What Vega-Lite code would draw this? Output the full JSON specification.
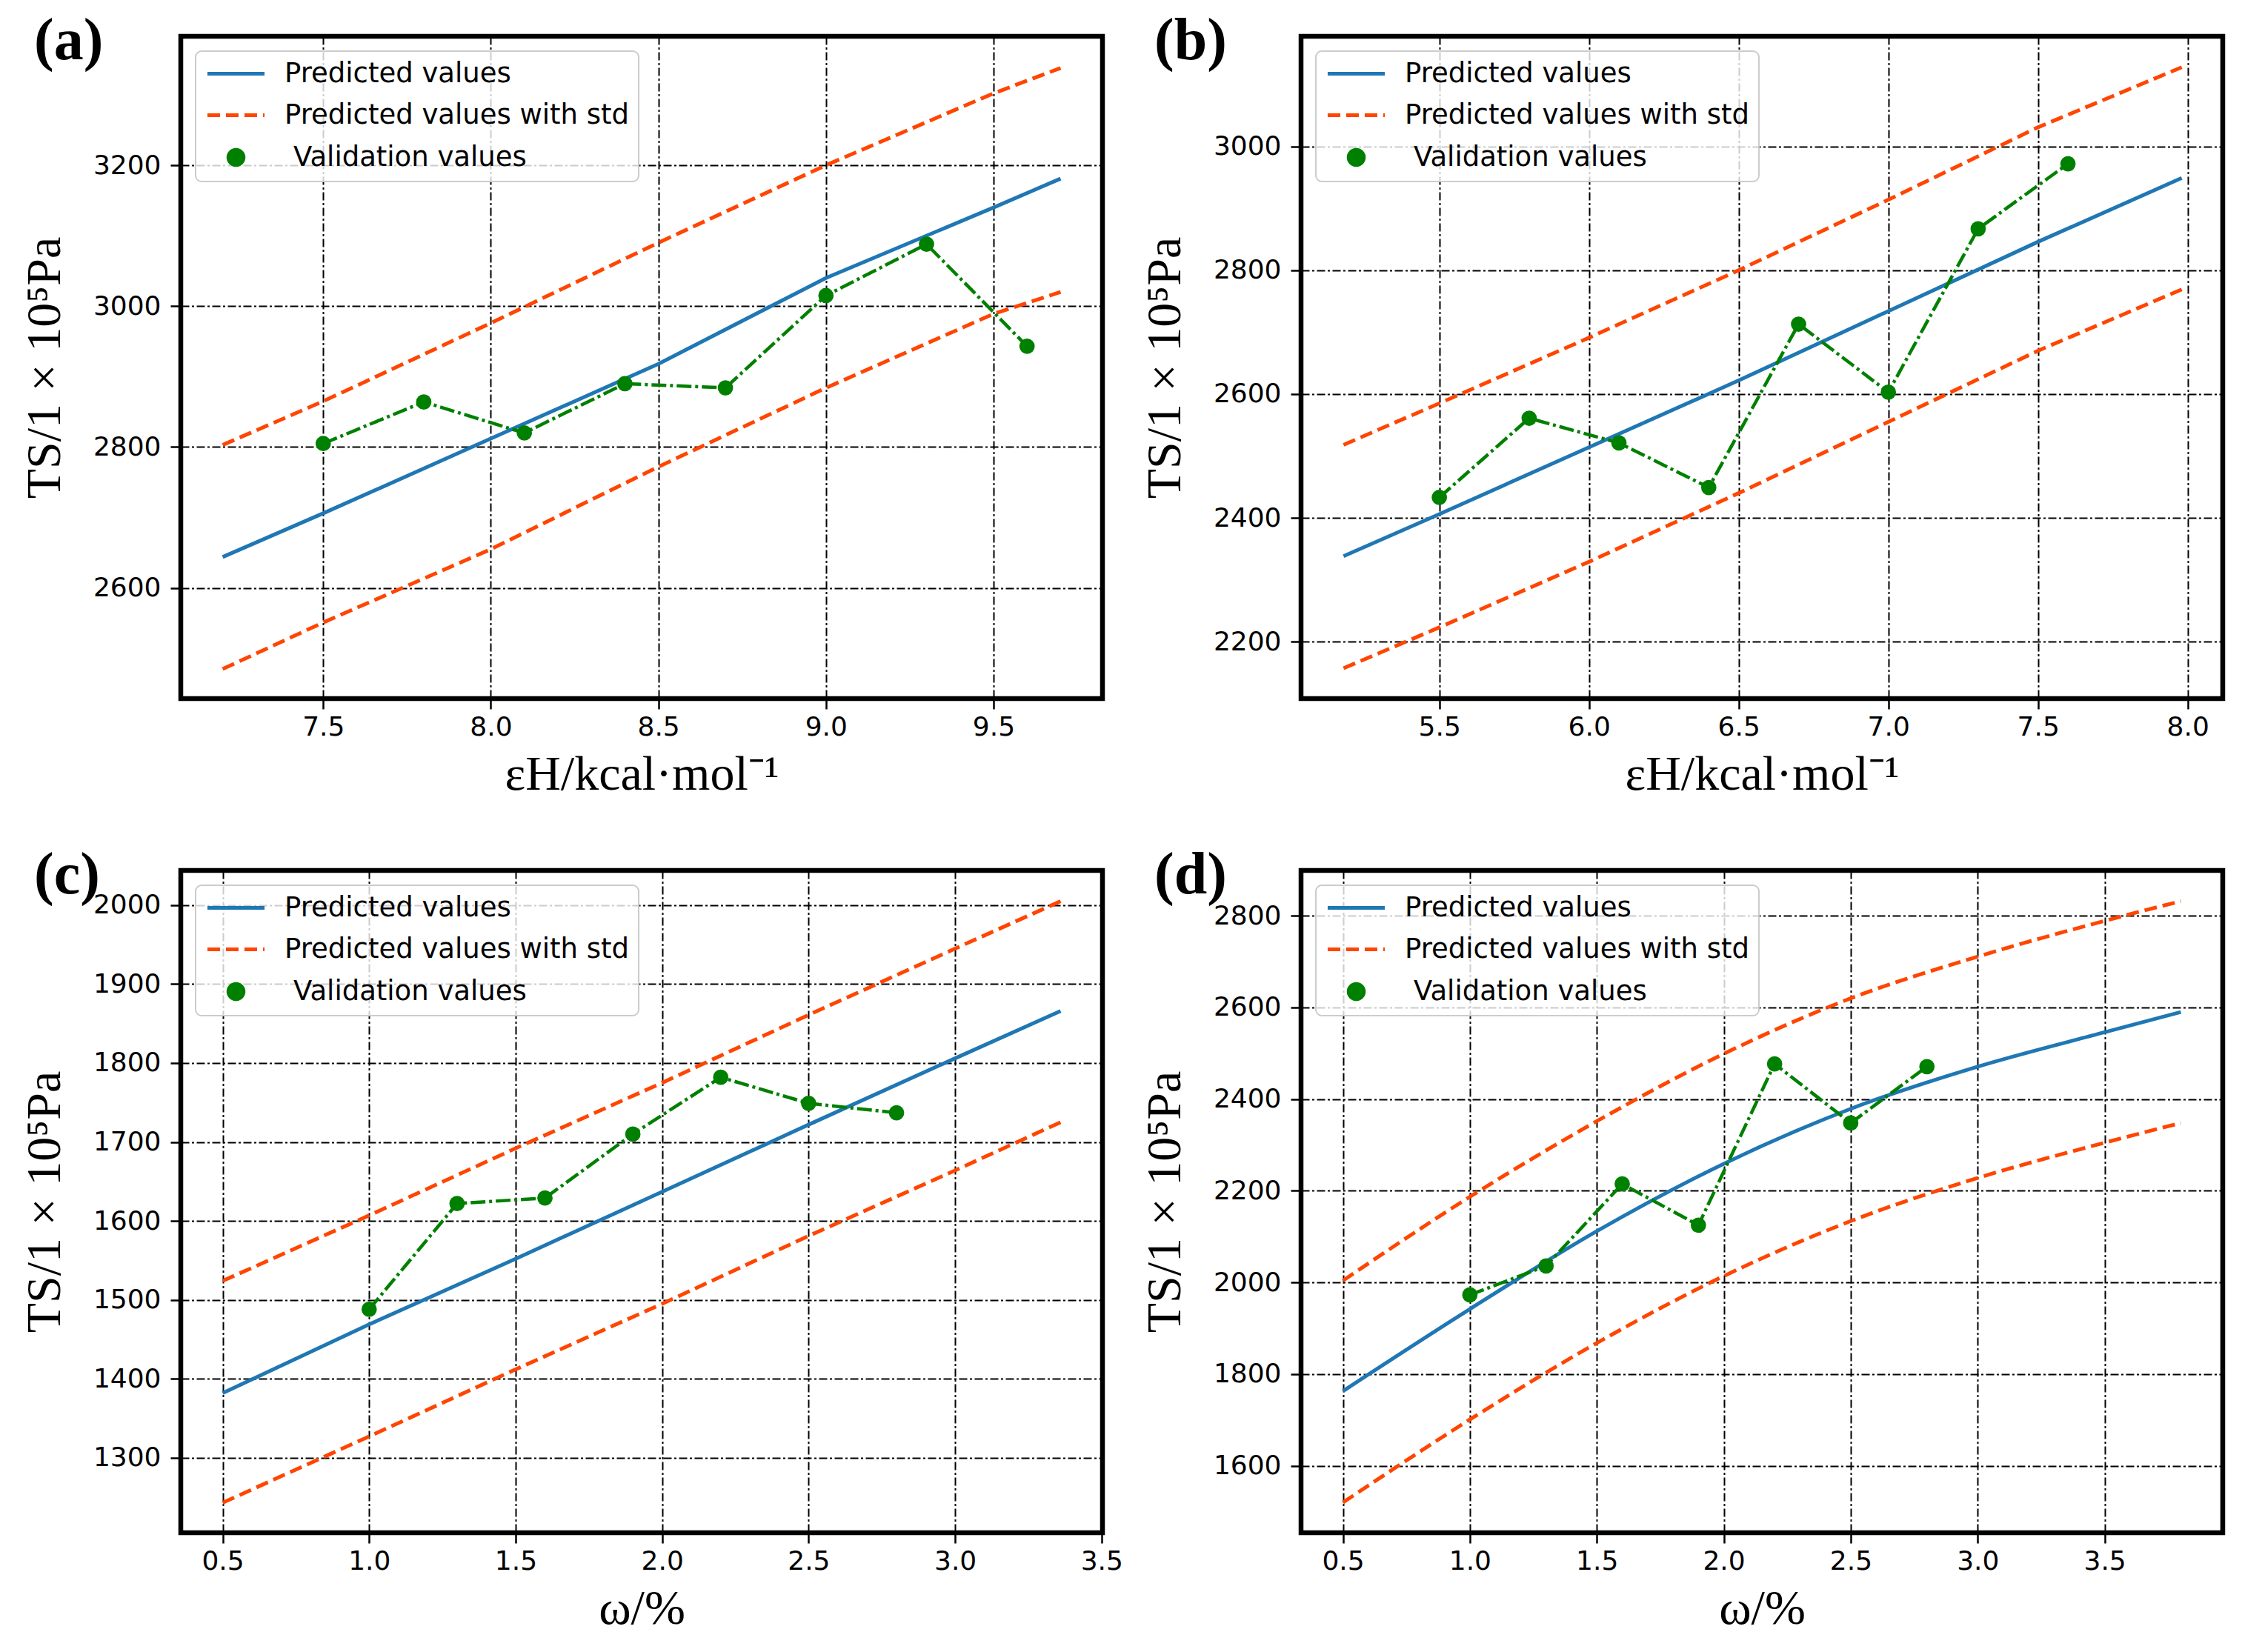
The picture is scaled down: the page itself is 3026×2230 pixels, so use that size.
{
  "$schema": "https://vega.github.io/schema/vega-lite/v6.json",
  "background": "white",
  "padding": {"left": 24, "top": 12, "right": 20, "bottom": 10},
  "columns": 2,
  "spacing": {"row": 232, "column": 268},
  "bounds": "flush",
  "resolve": {
    "scale": {"x": "independent", "y": "independent", "color": "independent"},
    "axis": {"x": "independent", "y": "independent"},
    "legend": {"color": "independent"}
  },
  "concat": [
    {
      "width": 1244,
      "height": 894,
      "title": {"text": "(a)", "dx": -198, "dy": 52},
      "data": {
        "values": [
          {"x": 7.2, "y": 2644, "series": "Predicted values", "line": "pred"},
          {"x": 7.5, "y": 2706, "series": "Predicted values", "line": "pred"},
          {"x": 8.0, "y": 2812, "series": "Predicted values", "line": "pred"},
          {"x": 8.5, "y": 2918, "series": "Predicted values", "line": "pred"},
          {"x": 9.0, "y": 3040, "series": "Predicted values", "line": "pred"},
          {"x": 9.5, "y": 3140, "series": "Predicted values", "line": "pred"},
          {"x": 9.7, "y": 3181, "series": "Predicted values", "line": "pred"},
          {"x": 7.2, "y": 2803, "series": "Predicted values with std", "line": "upper"},
          {"x": 7.5, "y": 2865, "series": "Predicted values with std", "line": "upper"},
          {"x": 8.0, "y": 2976, "series": "Predicted values with std", "line": "upper"},
          {"x": 8.5, "y": 3090, "series": "Predicted values with std", "line": "upper"},
          {"x": 9.0, "y": 3200, "series": "Predicted values with std", "line": "upper"},
          {"x": 9.5, "y": 3302, "series": "Predicted values with std", "line": "upper"},
          {"x": 9.7, "y": 3338, "series": "Predicted values with std", "line": "upper"},
          {"x": 7.2, "y": 2485, "series": "Predicted values with std", "line": "lower"},
          {"x": 7.5, "y": 2551, "series": "Predicted values with std", "line": "lower"},
          {"x": 8.0, "y": 2655, "series": "Predicted values with std", "line": "lower"},
          {"x": 8.5, "y": 2772, "series": "Predicted values with std", "line": "lower"},
          {"x": 9.0, "y": 2884, "series": "Predicted values with std", "line": "lower"},
          {"x": 9.5, "y": 2989, "series": "Predicted values with std", "line": "lower"},
          {"x": 9.7, "y": 3020, "series": "Predicted values with std", "line": "lower"},
          {"x": 7.5, "y": 2805, "series": "Validation values", "line": "valid"},
          {"x": 7.8, "y": 2864, "series": "Validation values", "line": "valid"},
          {"x": 8.1, "y": 2820, "series": "Validation values", "line": "valid"},
          {"x": 8.4, "y": 2890, "series": "Validation values", "line": "valid"},
          {"x": 8.7, "y": 2884, "series": "Validation values", "line": "valid"},
          {"x": 9.0, "y": 3015, "series": "Validation values", "line": "valid"},
          {"x": 9.3, "y": 3088, "series": "Validation values", "line": "valid"},
          {"x": 9.6, "y": 2943, "series": "Validation values", "line": "valid"}
        ]
      },
      "encoding": {
        "x": {
          "field": "x", "type": "quantitative",
          "scale": {"domain": [7.075, 9.825], "nice": false, "zero": false},
          "axis": {"values": [7.5, 8.0, 8.5, 9.0, 9.5], "format": ".1f", "title": "εH/kcal·mol⁻¹"}
        },
        "y": {
          "field": "y", "type": "quantitative",
          "scale": {"domain": [2443, 3383], "nice": false, "zero": false},
          "axis": {"values": [2600, 2800, 3000, 3200], "format": "d", "title": "TS/1 × 10⁵Pa"}
        },
        "color": {
          "field": "series", "type": "nominal",
          "scale": {"domain": ["Predicted values", "Predicted values with std", "Validation values"], "range": ["#1f77b4", "#ff4500", "#008000"]},
          "legend": {
            "title": null,
            "encode": {
              "labels": {
                "update": {"dx": {"signal": "datum.value === 'Validation values' ? 12 : 0"}}
              },
              "symbols": {
                "update": {
                  "shape": {"signal": "datum.value === 'Validation values' ? 'circle' : 'M-2.57,0L2.57,0'"},
                  "size": {"signal": "datum.value === 'Validation values' ? 420 : 900"},
                  "strokeDash": {"signal": "datum.value === 'Predicted values with std' ? [17, 8] : [1, 0]"},
                  "fill": {"signal": "datum.value === 'Validation values' ? '#008000' : 'transparent'"},
                  "stroke": {"signal": "datum.value === 'Predicted values' ? '#1f77b4' : datum.value === 'Predicted values with std' ? '#ff4500' : 'transparent'"},
                  "strokeWidth": {"value": 5},
                  "opacity": {"value": 1}
                }
              }
            }
          }
        }
      },
      "layer": [
        {"transform": [{"filter": "datum.series === 'Predicted values'"}], "mark": {"type": "line", "strokeWidth": 5}},
        {"transform": [{"filter": "datum.series === 'Predicted values with std'"}], "mark": {"type": "line", "strokeWidth": 5, "strokeDash": [17, 8]}, "encoding": {"detail": {"field": "line"}}},
        {"transform": [{"filter": "datum.series === 'Validation values'"}], "mark": {"type": "line", "strokeWidth": 4.5, "strokeDash": [20, 5, 4, 5]}},
        {"transform": [{"filter": "datum.series === 'Validation values'"}], "mark": {"type": "point", "filled": true, "opacity": 1, "size": 430}}
      ]
    },
    {
      "width": 1244,
      "height": 894,
      "title": {"text": "(b)", "dx": -198, "dy": 52},
      "data": {
        "values": [
          {"x": 5.18, "y": 2338, "series": "Predicted values", "line": "pred"},
          {"x": 5.5, "y": 2406, "series": "Predicted values", "line": "pred"},
          {"x": 6.0, "y": 2514, "series": "Predicted values", "line": "pred"},
          {"x": 6.5, "y": 2622, "series": "Predicted values", "line": "pred"},
          {"x": 7.0, "y": 2734, "series": "Predicted values", "line": "pred"},
          {"x": 7.5, "y": 2846, "series": "Predicted values", "line": "pred"},
          {"x": 7.98, "y": 2949, "series": "Predicted values", "line": "pred"},
          {"x": 5.18, "y": 2518, "series": "Predicted values with std", "line": "upper"},
          {"x": 5.5, "y": 2585, "series": "Predicted values with std", "line": "upper"},
          {"x": 6.0, "y": 2691, "series": "Predicted values with std", "line": "upper"},
          {"x": 6.5, "y": 2800, "series": "Predicted values with std", "line": "upper"},
          {"x": 7.0, "y": 2914, "series": "Predicted values with std", "line": "upper"},
          {"x": 7.5, "y": 3031, "series": "Predicted values with std", "line": "upper"},
          {"x": 7.98, "y": 3128, "series": "Predicted values with std", "line": "upper"},
          {"x": 5.18, "y": 2157, "series": "Predicted values with std", "line": "lower"},
          {"x": 5.5, "y": 2223, "series": "Predicted values with std", "line": "lower"},
          {"x": 6.0, "y": 2329, "series": "Predicted values with std", "line": "lower"},
          {"x": 6.5, "y": 2440, "series": "Predicted values with std", "line": "lower"},
          {"x": 7.0, "y": 2555, "series": "Predicted values with std", "line": "lower"},
          {"x": 7.5, "y": 2670, "series": "Predicted values with std", "line": "lower"},
          {"x": 7.98, "y": 2769, "series": "Predicted values with std", "line": "lower"},
          {"x": 5.5, "y": 2433, "series": "Validation values", "line": "valid"},
          {"x": 5.8, "y": 2561, "series": "Validation values", "line": "valid"},
          {"x": 6.1, "y": 2521, "series": "Validation values", "line": "valid"},
          {"x": 6.4, "y": 2449, "series": "Validation values", "line": "valid"},
          {"x": 6.7, "y": 2713, "series": "Validation values", "line": "valid"},
          {"x": 7.0, "y": 2603, "series": "Validation values", "line": "valid"},
          {"x": 7.3, "y": 2867, "series": "Validation values", "line": "valid"},
          {"x": 7.6, "y": 2972, "series": "Validation values", "line": "valid"}
        ]
      },
      "encoding": {
        "x": {
          "field": "x", "type": "quantitative",
          "scale": {"domain": [5.038, 8.117], "nice": false, "zero": false},
          "axis": {"values": [5.5, 6.0, 6.5, 7.0, 7.5, 8.0], "format": ".1f", "title": "εH/kcal·mol⁻¹"}
        },
        "y": {
          "field": "y", "type": "quantitative",
          "scale": {"domain": [2108, 3178], "nice": false, "zero": false},
          "axis": {"values": [2200, 2400, 2600, 2800, 3000], "format": "d", "title": "TS/1 × 10⁵Pa"}
        },
        "color": {
          "field": "series", "type": "nominal",
          "scale": {"domain": ["Predicted values", "Predicted values with std", "Validation values"], "range": ["#1f77b4", "#ff4500", "#008000"]},
          "legend": {
            "title": null,
            "encode": {
              "labels": {
                "update": {"dx": {"signal": "datum.value === 'Validation values' ? 12 : 0"}}
              },
              "symbols": {
                "update": {
                  "shape": {"signal": "datum.value === 'Validation values' ? 'circle' : 'M-2.57,0L2.57,0'"},
                  "size": {"signal": "datum.value === 'Validation values' ? 420 : 900"},
                  "strokeDash": {"signal": "datum.value === 'Predicted values with std' ? [17, 8] : [1, 0]"},
                  "fill": {"signal": "datum.value === 'Validation values' ? '#008000' : 'transparent'"},
                  "stroke": {"signal": "datum.value === 'Predicted values' ? '#1f77b4' : datum.value === 'Predicted values with std' ? '#ff4500' : 'transparent'"},
                  "strokeWidth": {"value": 5},
                  "opacity": {"value": 1}
                }
              }
            }
          }
        }
      },
      "layer": [
        {"transform": [{"filter": "datum.series === 'Predicted values'"}], "mark": {"type": "line", "strokeWidth": 5}},
        {"transform": [{"filter": "datum.series === 'Predicted values with std'"}], "mark": {"type": "line", "strokeWidth": 5, "strokeDash": [17, 8]}, "encoding": {"detail": {"field": "line"}}},
        {"transform": [{"filter": "datum.series === 'Validation values'"}], "mark": {"type": "line", "strokeWidth": 4.5, "strokeDash": [20, 5, 4, 5]}},
        {"transform": [{"filter": "datum.series === 'Validation values'"}], "mark": {"type": "point", "filled": true, "opacity": 1, "size": 430}}
      ]
    },
    {
      "width": 1244,
      "height": 894,
      "title": {"text": "(c)", "dx": -198, "dy": 52},
      "data": {
        "values": [
          {"x": 0.5, "y": 1382, "series": "Predicted values", "line": "pred"},
          {"x": 1.0, "y": 1469, "series": "Predicted values", "line": "pred"},
          {"x": 1.5, "y": 1552, "series": "Predicted values", "line": "pred"},
          {"x": 2.0, "y": 1637, "series": "Predicted values", "line": "pred"},
          {"x": 2.5, "y": 1722, "series": "Predicted values", "line": "pred"},
          {"x": 3.0, "y": 1806, "series": "Predicted values", "line": "pred"},
          {"x": 3.36, "y": 1866, "series": "Predicted values", "line": "pred"},
          {"x": 0.5, "y": 1524, "series": "Predicted values with std", "line": "upper"},
          {"x": 1.0, "y": 1607, "series": "Predicted values with std", "line": "upper"},
          {"x": 1.5, "y": 1692, "series": "Predicted values with std", "line": "upper"},
          {"x": 2.0, "y": 1775, "series": "Predicted values with std", "line": "upper"},
          {"x": 2.5, "y": 1861, "series": "Predicted values with std", "line": "upper"},
          {"x": 3.0, "y": 1945, "series": "Predicted values with std", "line": "upper"},
          {"x": 3.36, "y": 2005, "series": "Predicted values with std", "line": "upper"},
          {"x": 0.5, "y": 1243, "series": "Predicted values with std", "line": "lower"},
          {"x": 1.0, "y": 1327, "series": "Predicted values with std", "line": "lower"},
          {"x": 1.5, "y": 1412, "series": "Predicted values with std", "line": "lower"},
          {"x": 2.0, "y": 1495, "series": "Predicted values with std", "line": "lower"},
          {"x": 2.5, "y": 1581, "series": "Predicted values with std", "line": "lower"},
          {"x": 3.0, "y": 1664, "series": "Predicted values with std", "line": "lower"},
          {"x": 3.36, "y": 1725, "series": "Predicted values with std", "line": "lower"},
          {"x": 1.0, "y": 1488, "series": "Validation values", "line": "valid"},
          {"x": 1.3, "y": 1622, "series": "Validation values", "line": "valid"},
          {"x": 1.6, "y": 1629, "series": "Validation values", "line": "valid"},
          {"x": 1.9, "y": 1710, "series": "Validation values", "line": "valid"},
          {"x": 2.2, "y": 1782, "series": "Validation values", "line": "valid"},
          {"x": 2.5, "y": 1749, "series": "Validation values", "line": "valid"},
          {"x": 2.8, "y": 1737, "series": "Validation values", "line": "valid"}
        ]
      },
      "encoding": {
        "x": {
          "field": "x", "type": "quantitative",
          "scale": {"domain": [0.357, 3.503], "nice": false, "zero": false},
          "axis": {"values": [0.5, 1.0, 1.5, 2.0, 2.5, 3.0, 3.5], "format": ".1f", "title": "ω/%"}
        },
        "y": {
          "field": "y", "type": "quantitative",
          "scale": {"domain": [1205, 2044], "nice": false, "zero": false},
          "axis": {"values": [1300, 1400, 1500, 1600, 1700, 1800, 1900, 2000], "format": "d", "title": "TS/1 × 10⁵Pa"}
        },
        "color": {
          "field": "series", "type": "nominal",
          "scale": {"domain": ["Predicted values", "Predicted values with std", "Validation values"], "range": ["#1f77b4", "#ff4500", "#008000"]},
          "legend": {
            "title": null,
            "encode": {
              "labels": {
                "update": {"dx": {"signal": "datum.value === 'Validation values' ? 12 : 0"}}
              },
              "symbols": {
                "update": {
                  "shape": {"signal": "datum.value === 'Validation values' ? 'circle' : 'M-2.57,0L2.57,0'"},
                  "size": {"signal": "datum.value === 'Validation values' ? 420 : 900"},
                  "strokeDash": {"signal": "datum.value === 'Predicted values with std' ? [17, 8] : [1, 0]"},
                  "fill": {"signal": "datum.value === 'Validation values' ? '#008000' : 'transparent'"},
                  "stroke": {"signal": "datum.value === 'Predicted values' ? '#1f77b4' : datum.value === 'Predicted values with std' ? '#ff4500' : 'transparent'"},
                  "strokeWidth": {"value": 5},
                  "opacity": {"value": 1}
                }
              }
            }
          }
        }
      },
      "layer": [
        {"transform": [{"filter": "datum.series === 'Predicted values'"}], "mark": {"type": "line", "strokeWidth": 5}},
        {"transform": [{"filter": "datum.series === 'Predicted values with std'"}], "mark": {"type": "line", "strokeWidth": 5, "strokeDash": [17, 8]}, "encoding": {"detail": {"field": "line"}}},
        {"transform": [{"filter": "datum.series === 'Validation values'"}], "mark": {"type": "line", "strokeWidth": 4.5, "strokeDash": [20, 5, 4, 5]}},
        {"transform": [{"filter": "datum.series === 'Validation values'"}], "mark": {"type": "point", "filled": true, "opacity": 1, "size": 430}}
      ]
    },
    {
      "width": 1244,
      "height": 894,
      "title": {"text": "(d)", "dx": -198, "dy": 52},
      "data": {
        "values": [
          {"x": 0.5, "y": 1763, "series": "Predicted values", "line": "pred"},
          {"x": 1.0, "y": 1942, "series": "Predicted values", "line": "pred"},
          {"x": 1.5, "y": 2112, "series": "Predicted values", "line": "pred"},
          {"x": 2.0, "y": 2259, "series": "Predicted values", "line": "pred"},
          {"x": 2.5, "y": 2379, "series": "Predicted values", "line": "pred"},
          {"x": 3.0, "y": 2471, "series": "Predicted values", "line": "pred"},
          {"x": 3.5, "y": 2546, "series": "Predicted values", "line": "pred"},
          {"x": 3.8, "y": 2590, "series": "Predicted values", "line": "pred"},
          {"x": 0.5, "y": 2004, "series": "Predicted values with std", "line": "upper"},
          {"x": 1.0, "y": 2187, "series": "Predicted values with std", "line": "upper"},
          {"x": 1.5, "y": 2352, "series": "Predicted values with std", "line": "upper"},
          {"x": 2.0, "y": 2499, "series": "Predicted values with std", "line": "upper"},
          {"x": 2.5, "y": 2620, "series": "Predicted values with std", "line": "upper"},
          {"x": 3.0, "y": 2711, "series": "Predicted values with std", "line": "upper"},
          {"x": 3.5, "y": 2789, "series": "Predicted values with std", "line": "upper"},
          {"x": 3.8, "y": 2832, "series": "Predicted values with std", "line": "upper"},
          {"x": 0.5, "y": 1520, "series": "Predicted values with std", "line": "lower"},
          {"x": 1.0, "y": 1701, "series": "Predicted values with std", "line": "lower"},
          {"x": 1.5, "y": 1868, "series": "Predicted values with std", "line": "lower"},
          {"x": 2.0, "y": 2014, "series": "Predicted values with std", "line": "lower"},
          {"x": 2.5, "y": 2134, "series": "Predicted values with std", "line": "lower"},
          {"x": 3.0, "y": 2228, "series": "Predicted values with std", "line": "lower"},
          {"x": 3.5, "y": 2305, "series": "Predicted values with std", "line": "lower"},
          {"x": 3.8, "y": 2348, "series": "Predicted values with std", "line": "lower"},
          {"x": 1.0, "y": 1973, "series": "Validation values", "line": "valid"},
          {"x": 1.3, "y": 2036, "series": "Validation values", "line": "valid"},
          {"x": 1.6, "y": 2215, "series": "Validation values", "line": "valid"},
          {"x": 1.9, "y": 2125, "series": "Validation values", "line": "valid"},
          {"x": 2.2, "y": 2477, "series": "Validation values", "line": "valid"},
          {"x": 2.5, "y": 2348, "series": "Validation values", "line": "valid"},
          {"x": 2.8, "y": 2471, "series": "Validation values", "line": "valid"}
        ]
      },
      "encoding": {
        "x": {
          "field": "x", "type": "quantitative",
          "scale": {"domain": [0.335, 3.965], "nice": false, "zero": false},
          "axis": {"values": [0.5, 1.0, 1.5, 2.0, 2.5, 3.0, 3.5], "format": ".1f", "title": "ω/%"}
        },
        "y": {
          "field": "y", "type": "quantitative",
          "scale": {"domain": [1454, 2899], "nice": false, "zero": false},
          "axis": {"values": [1600, 1800, 2000, 2200, 2400, 2600, 2800], "format": "d", "title": "TS/1 × 10⁵Pa"}
        },
        "color": {
          "field": "series", "type": "nominal",
          "scale": {"domain": ["Predicted values", "Predicted values with std", "Validation values"], "range": ["#1f77b4", "#ff4500", "#008000"]},
          "legend": {
            "title": null,
            "encode": {
              "labels": {
                "update": {"dx": {"signal": "datum.value === 'Validation values' ? 12 : 0"}}
              },
              "symbols": {
                "update": {
                  "shape": {"signal": "datum.value === 'Validation values' ? 'circle' : 'M-2.57,0L2.57,0'"},
                  "size": {"signal": "datum.value === 'Validation values' ? 420 : 900"},
                  "strokeDash": {"signal": "datum.value === 'Predicted values with std' ? [17, 8] : [1, 0]"},
                  "fill": {"signal": "datum.value === 'Validation values' ? '#008000' : 'transparent'"},
                  "stroke": {"signal": "datum.value === 'Predicted values' ? '#1f77b4' : datum.value === 'Predicted values with std' ? '#ff4500' : 'transparent'"},
                  "strokeWidth": {"value": 5},
                  "opacity": {"value": 1}
                }
              }
            }
          }
        }
      },
      "layer": [
        {"transform": [{"filter": "datum.series === 'Predicted values'"}], "mark": {"type": "line", "strokeWidth": 5, "interpolate": "monotone"}},
        {"transform": [{"filter": "datum.series === 'Predicted values with std'"}], "mark": {"type": "line", "strokeWidth": 5, "strokeDash": [17, 8], "interpolate": "monotone"}, "encoding": {"detail": {"field": "line"}}},
        {"transform": [{"filter": "datum.series === 'Validation values'"}], "mark": {"type": "line", "strokeWidth": 4.5, "strokeDash": [20, 5, 4, 5]}},
        {"transform": [{"filter": "datum.series === 'Validation values'"}], "mark": {"type": "point", "filled": true, "opacity": 1, "size": 430}}
      ]
    }
  ],
  "config": {
    "view": {"stroke": "black", "strokeWidth": 6.5},
    "axis": {
      "grid": true,
      "gridColor": "black",
      "gridDash": [11, 3.5, 3, 3.5],
      "gridWidth": 2,
      "gridOpacity": 1,
      "domain": false,
      "tickColor": "black",
      "tickSize": 14,
      "tickWidth": 2.5,
      "labelFont": "DejaVu Sans",
      "labelFontSize": 36,
      "labelColor": "black",
      "labelOverlap": false,
      "labelFlush": false,
      "titleFont": "Liberation Serif",
      "titleFontSize": 66,
      "titleFontWeight": "normal",
      "titleColor": "black"
    },
    "axisX": {"labelPadding": 7, "titlePadding": 14},
    "axisY": {"labelPadding": 13, "titlePadding": 31},
    "legend": {
      "orient": "top-left",
      "offset": 20,
      "labelFont": "DejaVu Sans",
      "labelFontSize": 37,
      "labelColor": "black",
      "labelOffset": 47,
      "labelLimit": 0,
      "symbolSize": 900,
      "symbolStrokeWidth": 5,
      "symbolOffset": 24,
      "padding": 12,
      "rowPadding": 18,
      "strokeColor": "#cccccc",
      "strokeWidth": 2,
      "fillColor": "rgba(255,255,255,0.8)",
      "cornerRadius": 8
    },
    "title": {
      "anchor": "start",
      "frame": "group",
      "font": "Liberation Serif",
      "fontSize": 80,
      "fontWeight": "bold",
      "color": "black",
      "offset": 0,
      "baseline": "alphabetic"
    }
  }
}
